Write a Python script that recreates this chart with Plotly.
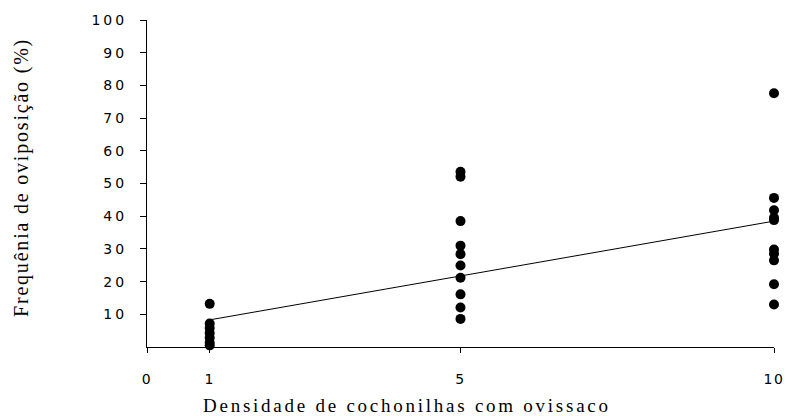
import plotly.graph_objects as go

# Data
x_density = [1]*7 + [5]*10 + [10]*10
y_freq = [13.2, 7.2, 5.8, 4.3, 2.8, 1.3, 0.5,
          53.6, 52.1, 38.5, 31.0, 28.4, 24.9, 21.2, 16.1, 12.1, 8.6,
          77.6, 45.6, 41.8, 39.5, 38.8, 29.8, 28.5, 26.5, 19.2, 13.0]
trend_x = [1, 10]
trend_y = [8.3, 38.5]

x_tickvals = [0, 1, 5, 10]
x_ticklabels = ["0", "1", "5", "10"]
y_tickvals = [10, 20, 30, 40, 50, 60, 70, 80, 90, 100]
y_ticklabels = [str(v) for v in y_tickvals]

x_title = "Densidade de cochonilhas com ovissaco"
y_title = "Frequênia de oviposição (%)"


def spaced(s, px):
    return '<span style="letter-spacing:%spx">%s</span>' % (px, s)


fig = go.Figure()
fig.add_trace(go.Scatter(x=trend_x, y=trend_y, mode="lines",
                         line=dict(color="black", width=1), showlegend=False,
                         hoverinfo="skip"))
fig.add_trace(go.Scatter(x=x_density, y=y_freq, mode="markers",
                         marker=dict(color="black", size=10, symbol="circle"),
                         showlegend=False, cliponaxis=False))

tickfont = dict(family="DejaVu Sans", size=14, color="black")
W, H = 787, 416
L, R, T, B = 147, 13, 20, 69
pw, ph = W - L - R, H - T - B

fig.update_layout(
    width=W, height=H, autosize=False,
    margin=dict(l=L, r=R, t=T, b=B, autoexpand=False),
    paper_bgcolor="white", plot_bgcolor="white",
    xaxis=dict(range=[0, 10], tickvals=x_tickvals,
               ticktext=[spaced(t, 1.5) for t in x_ticklabels],
               showgrid=False, zeroline=False, showline=True, linecolor="black",
               linewidth=1, ticks="outside", ticklen=5, tickcolor="black",
               tickfont=tickfont, ticklabelstandoff=14, automargin=False),
    yaxis=dict(range=[0, 100], tickvals=y_tickvals,
               ticktext=[spaced(t, 3) for t in y_ticklabels],
               showgrid=False, zeroline=False, showline=True, linecolor="black",
               linewidth=1, ticks="outside", ticklen=6, tickcolor="black",
               tickfont=tickfont, ticklabelstandoff=10, automargin=False),
    annotations=[
        dict(text=spaced(x_title, 2.75),
             xref="paper", yref="paper", x=(407 - 147) / pw, y=-(406 - 347) / ph,
             xanchor="center", yanchor="middle", showarrow=False,
             font=dict(family="Liberation Serif", size=19, color="black")),
        dict(text=spaced(y_title, 1.8),
             xref="paper", yref="paper", x=-(147 - 22) / pw, y=(347 - 178) / ph,
             xanchor="center", yanchor="middle", showarrow=False, textangle=-90,
             font=dict(family="Liberation Serif", size=20, color="black")),
    ],
)

fig.write_html("out.html", config={"displayModeBar": False},
               post_script="document.body.style.margin='0';document.body.style.overflow='hidden';")
